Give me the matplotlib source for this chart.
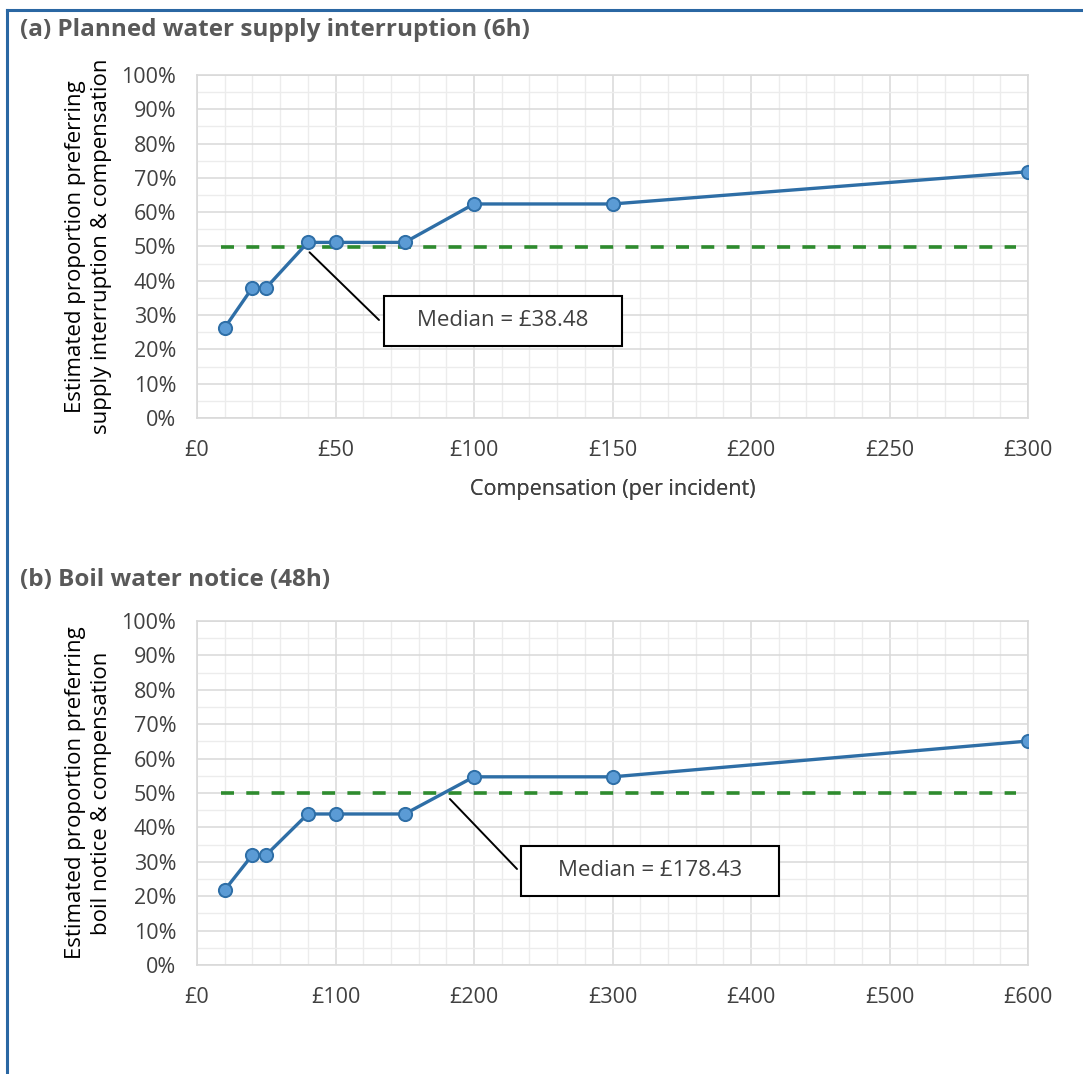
import matplotlib
matplotlib.use("Agg")
import matplotlib.pyplot as plt
from matplotlib.lines import Line2D
from matplotlib.patches import Rectangle
from matplotlib.ticker import FuncFormatter, MultipleLocator

plt.rcParams['font.family'] = ['Open Sans', 'DejaVu Sans']

# ---- data ----
a_comp = [10, 20, 25, 40, 50, 75, 100, 150, 300]
a_prop = [0.263, 0.380, 0.380, 0.512, 0.512, 0.512, 0.624, 0.624, 0.718]
a_median = 38.48
a_title = "(a) Planned water supply interruption (6h)"
a_ylabel = "Estimated proportion preferring\nsupply interruption & compensation"
a_xticks = [0, 50, 100, 150, 200, 250, 300]

b_comp = [20, 40, 50, 80, 100, 150, 200, 300, 600]
b_prop = [0.218, 0.320, 0.320, 0.439, 0.439, 0.439, 0.547, 0.547, 0.651]
b_median = 178.43
b_title = "(b) Boil water notice (48h)"
b_ylabel = "Estimated proportion preferring\nboil notice & compensation"
b_xticks = [0, 100, 200, 300, 400, 500, 600]

xlabel = "Compensation (per incident)"
ref_level = 0.5

W, H = 1083, 1074
fig = plt.figure(figsize=(W / 100, H / 100), dpi=100)

# outer border
fig.add_artist(Line2D([7 / W, 7 / W], [0, 1 - 10 / H], transform=fig.transFigure,
                      color='#2a67a3', lw=2.2))
fig.add_artist(Line2D([7 / W, 1], [1 - 10 / H, 1 - 10 / H], transform=fig.transFigure,
                      color='#2a67a3', lw=2.2))

line_col = '#2e6ea6'
marker_face = '#5b9bd5'
txt_col = '#404040'

PX0, PX1 = 197, 1028


def panel(top, bot, comp, prop, median, title, ylabel, xticks, title_y, box_px,
          box_text, line_end_px):
    ax = fig.add_axes([PX0 / W, 1 - bot / H, (PX1 - PX0) / W, (bot - top) / H])
    pw, ph = PX1 - PX0, bot - top

    def fx(px):
        return (px - PX0) / pw

    def fy(py):
        return (bot - py) / ph

    xmax = xticks[-1]
    ax.set_xlim(0, xmax)
    ax.set_ylim(0, 1)
    ax.set_xticks(xticks)
    ax.xaxis.set_minor_locator(MultipleLocator(xmax / 30))
    ax.yaxis.set_major_locator(MultipleLocator(0.1))
    ax.yaxis.set_minor_locator(MultipleLocator(0.05))
    ax.grid(which='major', color='#d9d9d9', lw=1.1, zorder=0)
    ax.grid(which='minor', color='#ececec', lw=1.0, zorder=0)
    for s in ax.spines.values():
        s.set_color('#d9d9d9')
        s.set_linewidth(1.2)
    ax.tick_params(which='both', length=0, labelsize=15.5, labelcolor=txt_col)
    ax.tick_params(axis='x', pad=16)
    ax.tick_params(axis='y', pad=15)
    ax.xaxis.set_major_formatter(FuncFormatter(lambda v, p: f"£{v:.0f}"))
    ax.yaxis.set_major_formatter(FuncFormatter(lambda v, p: f"{v * 100:.0f}%"))
    ax.set_axisbelow(True)

    ax.plot([comp[0] * 0.85, comp[-1] * 0.985], [ref_level, ref_level], color='#2e8b2e',
            lw=2.6, ls=(0, (3.6, 3.4)), zorder=2)
    ax.plot(comp, prop, color=line_col, lw=2.4, marker='o', ms=9.5,
            markerfacecolor=marker_face, markeredgecolor=line_col, markeredgewidth=1.4,
            zorder=3)

    ax.set_xlabel(xlabel, fontsize=15.5, color=txt_col)
    ax.xaxis.set_label_coords(0.5, fy(479))
    ax.set_ylabel(ylabel, fontsize=16, color='black', linespacing=1.3)
    ax.yaxis.set_label_coords(fx(112), 0.5)

    fig.text(20 / W, title_y, title, fontsize=17.5, fontweight='bold', color='#595959',
             ha='left', va='center')

    # callout box
    x0, y0, x1, y1 = box_px
    ax.add_patch(Rectangle((fx(x0), fy(y1)), fx(x1) - fx(x0), fy(y0) - fy(y1),
                           transform=ax.transAxes, fc='white', ec='black', lw=1.5,
                           zorder=5))
    ax.text(fx((x0 + x1) / 2), fy((y0 + y1) / 2), box_text, transform=ax.transAxes,
            fontsize=16, color=txt_col, ha='center', va='center', zorder=6)
    lx, ly = line_end_px
    ax.annotate("", xy=(median, ref_level), xycoords='data',
                xytext=(fx(lx), fy(ly)), textcoords='axes fraction',
                arrowprops=dict(arrowstyle='-', color='black', lw=1.4,
                                shrinkA=0, shrinkB=6), zorder=4)
    return ax


panel(75, 418, a_comp, a_prop, a_median, a_title, a_ylabel, a_xticks, 1 - 30 / H,
      (384, 296, 622, 346), "Median = £38.48", (379, 320))
panel(621, 965, b_comp, b_prop, b_median, b_title, b_ylabel, b_xticks, 1 - 580 / H,
      (521, 846, 779, 896), "Median = £178.43", (517, 869))

fig.savefig("out.png", dpi=100, facecolor='white')
